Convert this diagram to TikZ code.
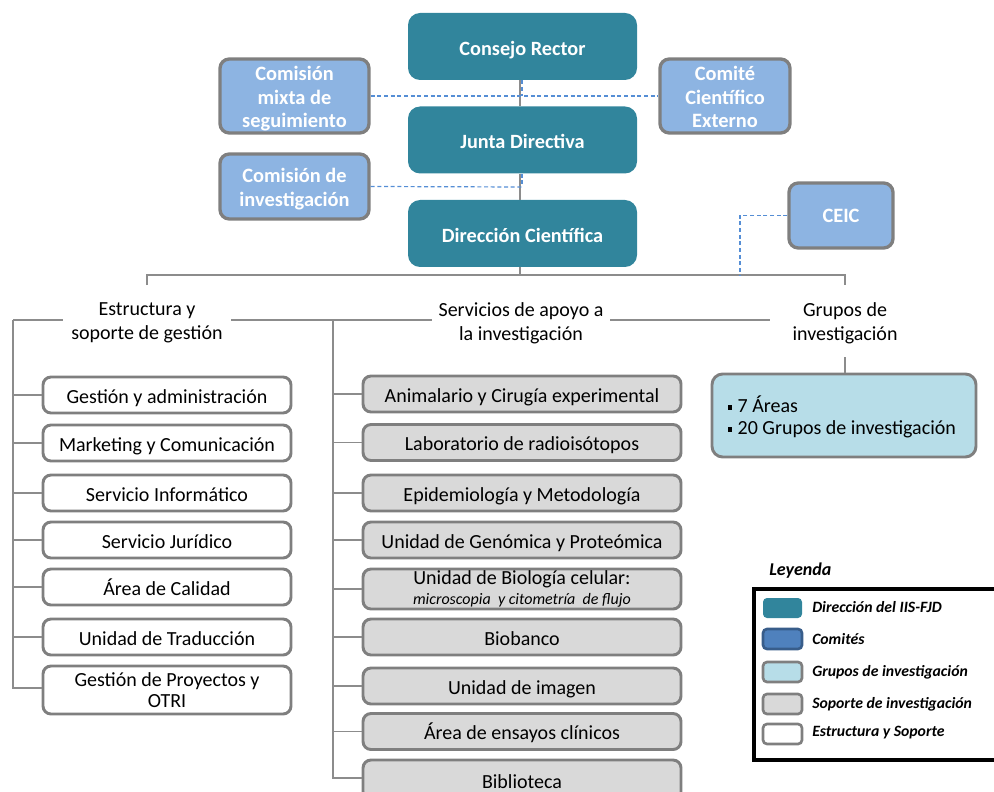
\documentclass[tikz,border=0pt]{standalone}
\usepackage{fontspec}
\setmainfont{Carlito}
\definecolor{teal1}{HTML}{31859C}
\definecolor{blue1}{HTML}{8DB4E2}
\definecolor{blue2}{HTML}{4F81BD}
\definecolor{blue3}{HTML}{385D8A}
\definecolor{cyan1}{HTML}{B7DDE8}
\definecolor{grey1}{HTML}{D9D9D9}
\definecolor{bord}{HTML}{7F7F7F}
\definecolor{lin}{HTML}{8C8C8C}
\definecolor{dsh}{HTML}{558ED5}
\newcommand{\mltext}[2][-2.5pt]{\raisebox{#1}[\height][\depth]{\begin{tabular}{@{}c@{}}#2\end{tabular}}}
\begin{document}
\begin{tikzpicture}[x=0.75pt,y=-0.75pt,
  dirbox/.style={fill=teal1, rounded corners=9pt, minimum width=171.75pt, minimum height=50.25pt, text=white, font=\fontsize{15.2}{18}\selectfont\bfseries, inner sep=0, text height=14.5pt, text depth=1pt},
  combox/.style={fill=blue1, draw=bord, line width=2.5pt, rounded corners=7pt, text=white, font=\fontsize{15.3}{17.6}\selectfont\bfseries, inner sep=0},
  estbox/.style={fill=white, draw=bord, line width=2.2pt, rounded corners=6pt, minimum width=186pt, minimum height=27pt, font=\fontsize{15}{16}\selectfont, inner sep=0},
  supbox/.style={fill=grey1, draw=bord, line width=2.2pt, rounded corners=6pt, minimum width=238.5pt, minimum height=27pt, font=\fontsize{15}{16}\selectfont, inner sep=0},
  one/.style={text height=13pt, text depth=1pt},
  ttl/.style={fill=white, font=\fontsize{15}{17.8}\selectfont, align=center, inner xsep=5pt, inner ysep=1pt},
  conn/.style={draw=lin, line width=0.9pt},
  dconn/.style={draw=dsh, line width=0.9pt, dash pattern=on 3pt off 2pt},
  leg/.style={minimum width=29.25pt, minimum height=15pt, rounded corners=3pt, inner sep=0},
  legt/.style={anchor=west, font=\fontsize{11.8}{13}\selectfont\bfseries\itshape, inner sep=0}
]
\useasboundingbox (0,0) rectangle (994,791);

% direction boxes
\node[dirbox] (cons) at (522.5,46.5) {Consejo Rector};
\node[dirbox] (junta) at (522.5,140) {Junta Directiva};
\node[dirbox] (dir) at (522.5,233.5) {Dirección Científica};

% committees
\node[combox, minimum width=111.75pt, minimum height=55.5pt] (mixta) at (294.5,96) {\mltext{Comisión\\mixta de\\seguimiento}};
\node[combox, minimum width=97.5pt, minimum height=55.5pt] (comite) at (725,96) {\mltext{Comité\\Científico\\Externo}};
\node[combox, minimum width=111.75pt, minimum height=48.75pt] (cinv) at (294.5,186.5) {\mltext{Comisión de\\investigación}};
\node[combox, minimum width=78pt, minimum height=48.75pt] (ceic) at (841,215.5) {CEIC};

% vertical solid connectors
\draw[conn] (cons.south -| 520,0) -- (junta.north -| 520,0);
\draw[conn] (junta.south -| 520,0) -- (dir.north -| 520,0);

% dashed committee connectors
\coordinate (d1) at (522,96);
\coordinate (d2) at (522,187);
\draw[dconn] (mixta.east) -- (comite.west);
\draw[dconn] (cons.south -| d1) -- (d1);
\draw[dconn] (cinv.east) -- (d2);
\draw[dconn] (junta.south -| d2) -- (d2);

% branch line
\coordinate (hl) at (147,275);
\coordinate (hr) at (845,275);
\coordinate (hm) at (520,275);
\draw[conn] (dir.south -| hm) -- (hm);
\draw[conn] (147,285) -- (hl) -- (hr) -- (845,285);
\coordinate (ceicd) at (740,275);
\draw[dconn] (ceic.west) -| (ceicd);

% bracket line
\coordinate (bl) at (13,320);
\coordinate (bm) at (333,320);
\coordinate (br) at (770,320);
\draw[conn] (bl) -- (br);

% titles
\node[ttl, inner xsep=6pt] (t1) at (147,323) {Estructura y\\soporte de gestión};
\node[ttl] (t2) at (521,323) {Servicios de apoyo a\\la investigación};
\node[font=\fontsize{15}{17.8}\selectfont, align=center] (t3) at (845,323) {Grupos de\\investigación};

% left boxes
\node[estbox, one] (e1) at (167,395) {Gestión y administración};
\node[estbox, one] (e2) at (167,443) {Marketing y Comunicación};
\node[estbox, one] (e3) at (167,493) {Servicio Informático};
\node[estbox, one] (e4) at (167,540) {Servicio Jurídico};
\node[estbox, one] (e5) at (167,587) {Área de Calidad};
\node[estbox, one] (e6) at (167,637) {Unidad de Traducción};
\node[estbox, minimum height=36pt] (e7) at (167,690) {\mltext[-2pt]{Gestión de Proyectos y\\OTRI}};
\coordinate (lb) at (13,688);
\draw[conn] (bl) -- (lb) -- (lb -| e7.west);
\foreach \n in {e1,e2,e3,e4,e5,e6} \draw[conn] (bl |- \n.west) -- (\n.west);

% middle boxes
\node[supbox, one] (s1) at (522,394) {Animalario y Cirugía experimental};
\node[supbox, one] (s2) at (522,442.5) {Laboratorio de radioisótopos};
\node[supbox, one] (s3) at (522,493) {Epidemiología y Metodología};
\node[supbox, one] (s4) at (522,540) {Unidad de Genómica y Proteómica};
\node[supbox, minimum height=30pt, align=center] (s5) at (522,589) {Unidad de Biología celular:\\[-1pt]{\fontsize{12}{12}\selectfont\itshape microscopia\ \ y citometría\ \ de flujo}};
\node[supbox, one] (s6) at (522,637) {Biobanco};
\node[supbox, one] (s7) at (522,686) {Unidad de imagen};
\node[supbox, one] (s8) at (522,731.5) {Área de ensayos clínicos};
\node[supbox, one, minimum height=30pt] (s9) at (522,780) {Biblioteca};
\coordinate (mb) at (333,778);
\draw[conn] (bm) -- (mb) -- (mb -| s9.west);
\foreach \n in {s1,s2,s3,s4,s5,s6,s7,s8} \draw[conn] (bm |- \n.west) -- (\n.west);

% groups
\node[fill=cyan1, draw=bord, line width=2.2pt, rounded corners=8pt, minimum width=198pt, minimum height=62.25pt, inner sep=0] (g) at (844,415.5) {};
\node[anchor=west, align=left, font=\fontsize{15}{16.5}\selectfont, inner sep=0] (gt) at (728,417) {\rule[2pt]{3pt}{3.5pt}\hspace{4pt}7 Áreas\\\rule[2pt]{3pt}{3.5pt}\hspace{4pt}20 Grupos de investigación};
\draw[conn] (845,357) -- (g.north -| 845,0);

% legend
\node[anchor=west, font=\fontsize{13.5}{15}\selectfont\bfseries\itshape, inner sep=0] (leyt) at (769,571) {Leyenda};
\draw[line width=2.3pt] (1010,589) -- (754,589) -- (754,760) -- (1010,760);
\node[leg, fill=teal1] (l1) at (782.5,608) {};
\node[leg, fill=blue2, draw=blue3, line width=2pt] (l2) at (782.5,639) {};
\node[leg, fill=cyan1, draw=bord, line width=2pt] (l3) at (782.5,672) {};
\node[leg, fill=grey1, draw=bord, line width=2pt] (l4) at (782.5,704) {};
\node[leg, fill=white, draw=bord, line width=2pt] (l5) at (782.5,734) {};
\node[legt] at (812,607) {Dirección del IIS-FJD};
\node[legt] at (812,639) {Comités};
\node[legt] at (812,672) {Grupos de investigación};
\node[legt] at (812,704) {Soporte de investigación};
\node[legt] at (812,733) {Estructura y Soporte};
\end{tikzpicture}
\end{document}
